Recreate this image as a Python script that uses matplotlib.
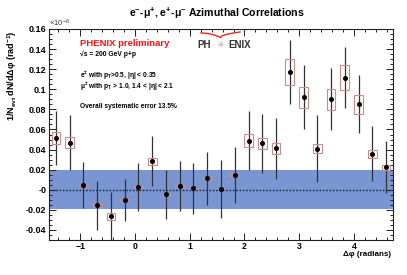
import numpy as np
import matplotlib
matplotlib.use("Agg")
import matplotlib.pyplot as plt
from matplotlib.patches import Rectangle
from matplotlib.ticker import FixedLocator, FixedFormatter, MultipleLocator

plt.rcParams['font.family'] = ['Liberation Sans', 'DejaVu Sans']
plt.rcParams['font.weight'] = 'bold'
plt.rcParams['mathtext.default'] = 'regular'

# bin centres (radians), 25 bins over [-pi/2, 3pi/2]
dphi = [-1.4451, -1.1938, -0.9425, -0.6912, -0.4398, -0.1885, 0.0628, 0.3142,
        0.5655, 0.8168, 1.0681, 1.3195, 1.5708, 1.8221, 2.0735, 2.3248,
        2.5761, 2.8274, 3.0788, 3.3301, 3.5814, 3.8327, 4.0841, 4.3354, 4.5867]
yield_ = [0.0517, 0.0467, 0.0047, -0.0153, -0.0263, -0.0103, 0.0027, 0.0283,
          -0.0047, 0.0037, 0.0013, 0.0113, 0.0007, 0.0150, 0.0487, 0.0463,
          0.0413, 0.1170, 0.0920, 0.0410, 0.0900, 0.1117, 0.0850, 0.0357, 0.0223]
stat_err = [0.0270, 0.0275, 0.0233, 0.0245, 0.0243, 0.0210, 0.0235, 0.0250,
            0.0243, 0.0245, 0.0255, 0.0260, 0.0285, 0.0277, 0.0295, 0.0295,
            0.0305, 0.0320, 0.0320, 0.0330, 0.0310, 0.0300, 0.0290, 0.0273, 0.0260]
sys_err = [0.0060, 0.0055, 0.0008, 0.0020, 0.0033, 0.0013, 0.0006, 0.0033,
           0.0008, 0.0006, 0.0004, 0.0014, 0.0004, 0.0018, 0.0065, 0.0055,
           0.0053, 0.0132, 0.0102, 0.0048, 0.0104, 0.0125, 0.0098, 0.0042, 0.0025]
band_half = 0.0196  # overall normalisation band

ytick_vals = [-0.04, -0.02, 0.0, 0.02, 0.04, 0.06, 0.08, 0.10, 0.12, 0.14, 0.16]
ytick_labels = ["-0.04", "-0.02", "-0", "0.02", "0.04", "0.06", "0.08",
                "0.1", "0.12", "0.14", "0.16"]
xtick_vals = [-1, 0, 1, 2, 3, 4]

W, H = 407, 275


def fx(px):
    return px / W


def fy(py):
    return 1 - py / H


fig = plt.figure(figsize=(W / 100, H / 100), dpi=100)
ax = fig.add_axes([fx(49), fy(240), fx(393) - fx(49), fy(29) - fy(240)])
ax.set_xlim(-np.pi / 2, 3 * np.pi / 2)
ax.set_ylim(-0.05, 0.16)

ax.axhspan(-band_half, band_half, color="#7996d2", lw=0, zorder=1)
ax.axhline(0, color="#1e2848", lw=1.0, ls=(0, (1.2, 1.2)), zorder=2)

ax.errorbar(dphi, yield_, yerr=stat_err, fmt="none", ecolor="#333333",
            elinewidth=0.9, capsize=0, zorder=3)
for x, y, s in zip(dphi, yield_, sys_err):
    ax.add_patch(Rectangle((x - 0.08, y - s), 0.16, 2 * s, fill=False,
                           edgecolor="#cf8a8a", lw=0.8, zorder=4))
ax.plot(dphi, yield_, "o", color="black", ms=2.6, zorder=5)

ax.yaxis.set_major_locator(FixedLocator(ytick_vals))
ax.yaxis.set_major_formatter(FixedFormatter(ytick_labels))
ax.yaxis.set_minor_locator(MultipleLocator(0.005))
ax.xaxis.set_major_locator(FixedLocator(xtick_vals))
ax.xaxis.set_minor_locator(MultipleLocator(0.2))
ax.tick_params(which="both", direction="in", top=True, right=True,
               color="#222222", width=0.7)
ax.tick_params(which="major", length=4.8)
ax.tick_params(which="minor", length=2.4)
ax.tick_params(axis="y", labelsize=6.5, pad=2)
ax.tick_params(axis="x", labelsize=6.3, pad=1.2)
for sp in ax.spines.values():
    sp.set_linewidth(0.8)
    sp.set_color("#222222")

fig.text(fx(217), fy(13), "e$^{-}$-μ$^{+}$, e$^{+}$-μ$^{-}$ Azimuthal Correlations",
         ha="center", va="center", fontsize=7.6, fontweight="bold")
fig.text(fx(12), fy(30), "1/N$_{evt}$ dN/dΔφ (rad$^{-1}$)", rotation=90,
         ha="center", va="top", fontsize=6.5, fontweight="bold")
fig.text(fx(391), fy(254), "Δφ (radians)", ha="right", va="center",
         fontsize=5.8, fontweight="bold")
fig.text(fx(49), fy(23), "×10$^{-6}$", ha="left", va="center", fontsize=5.5,
         fontweight="normal", color="#333333")

fig.text(fx(80), fy(43.5), "PHENIX preliminary", ha="left", va="center",
         fontsize=6.8, fontweight="bold", color="#ff1010")
fig.text(fx(80), fy(54), "√s = 200 GeV p+p", ha="left", va="center",
         fontsize=4.9, fontweight="bold")
fig.text(fx(80), fy(75.5), "e$^{±}$ with p$_{T}$>0.5, |η| < 0.35", ha="left",
         va="center", fontsize=4.8, fontweight="bold")
fig.text(fx(80), fy(87), "μ$^{±}$ with p$_{T}$ > 1.0, 1.4 < |η| < 2.1", ha="left",
         va="center", fontsize=4.8, fontweight="bold")
fig.text(fx(80), fy(106), "Overall systematic error 13.5%", ha="left",
         va="center", fontsize=4.8, fontweight="bold")

# PHENIX logo
fig.text(fx(197), fy(44.5), "PH", ha="left", va="center", fontsize=7,
         fontweight="bold", color="#333333")
fig.text(fx(228), fy(44.5), "ENIX", ha="left", va="center", fontsize=7,
         fontweight="bold", color="#333333")
fig.text(fx(220.5), fy(44.5), "✳", ha="center", va="center", fontsize=7,
         color="#aaaaaa", family="DejaVu Sans")
t = np.linspace(0, 1, 20)
lx = 201 + 19.5 * t
ly = 33 + 4.5 * t ** 2
rx = 220.5 + 19.5 * t
ry = 37.5 - 5.5 * np.sqrt(t)
fig.add_artist(plt.Line2D(fx(np.concatenate([lx, rx])),
                          fy(np.concatenate([ly, ry])), color="#ee2222", lw=1.0))

fig.savefig("out.png", dpi=100)
